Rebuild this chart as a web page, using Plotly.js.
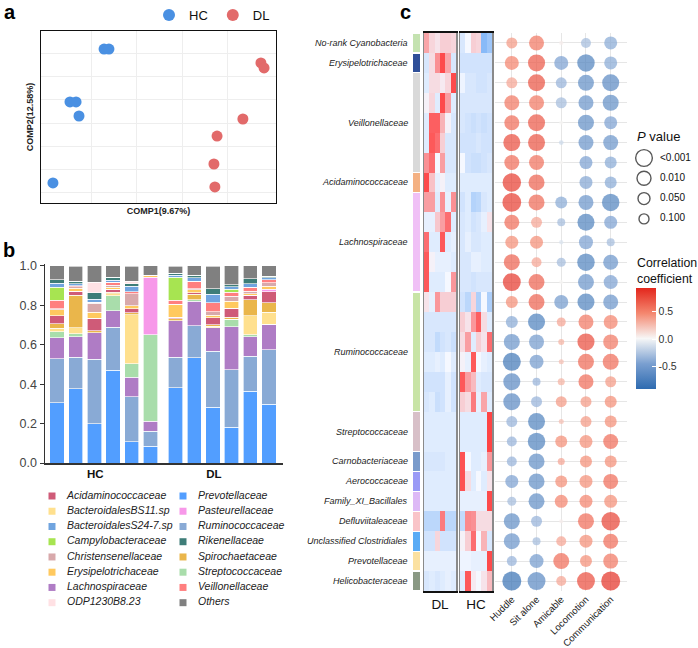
<!DOCTYPE html>
<html><head><meta charset="utf-8">
<script src="https://cdn.plot.ly/plotly-3.0.1.min.js"></script>
<style>html,body{margin:0;padding:0;background:#fff}</style>
</head><body><div id="chart" style="width:698px;height:648px"></div>
<script>
// ================= DATA =================
// Panel a : PLS-DA scores
const pcaGroups = ['HC', 'DL'];
const hcComp1 = [-0.278, -0.253, -0.452, -0.421, -0.406, -0.539];
const hcComp2 = [0.474, 0.474, 0.105, 0.105, 0.007, -0.460];
const dlComp1 = [0.523, 0.539, 0.431, 0.299, 0.283, 0.288];
const dlComp2 = [0.377, 0.342, -0.014, -0.133, -0.328, -0.488];

// Panel b : relative abundance (6 HC samples then 6 DL samples), in stacking order
const sampleGroups = ['HC', 'DL'];
const samplesPerGroup = 6;
const stackTaxa = ['Prevotellaceae','Ruminococcaceae','Lachnospiraceae','Streptococcaceae',
  'BacteroidalesBS11.sp','Spirochaetaceae','Acidaminococcaceae','Pasteurellaceae',
  'Erysipelotrichaceae','Christensenellaceae','Veillonellaceae','Campylobacteraceae',
  'BacteroidalesS24-7.sp','Rikenellaceae','ODP1230B8.23','Others'];
const prevotellaceae     = [0.306,0.376,0.200,0.472,0.108,0.086, 0.382,0.535,0.284,0.181,0.365,0.299];
const ruminococcaceae    = [0.222,0.162,0.327,0.218,0.228,0.076, 0.156,0.161,0.284,0.293,0.178,0.277];
const lachnospiraceae    = [0.108,0.103,0.135,0.083,0.098,0.049, 0.183,0.124,0.118,0.218,0.098,0.129];
const streptococcaceae   = [0.029,0.015,0.000,0.076,0.069,0.440, 0.000,0.008,0.000,0.037,0.010,0.000];
const bacteroidalesBS11  = [0.020,0.030,0.000,0.010,0.250,0.000, 0.000,0.000,0.008,0.000,0.096,0.059];
const spirochaetaceae    = [0.022,0.166,0.010,0.008,0.010,0.000, 0.010,0.029,0.008,0.010,0.081,0.049];
const acidaminococcaceae = [0.041,0.020,0.063,0.014,0.019,0.000, 0.010,0.008,0.034,0.046,0.024,0.056];
const pasteurellaceae    = [0.000,0.000,0.000,0.000,0.000,0.291, 0.000,0.000,0.000,0.000,0.000,0.012];
const erysipelotrichaceae= [0.029,0.014,0.030,0.012,0.015,0.012, 0.064,0.014,0.014,0.037,0.008,0.017];
const christensenellaceae= [0.007,0.008,0.046,0.010,0.063,0.000, 0.000,0.005,0.017,0.025,0.012,0.017];
const veillonellaceae    = [0.041,0.005,0.005,0.015,0.008,0.000, 0.022,0.039,0.046,0.020,0.020,0.014];
const campylobacteraceae = [0.068,0.000,0.000,0.000,0.000,0.000, 0.115,0.000,0.000,0.014,0.000,0.000];
const bacteroidalesS247  = [0.020,0.012,0.015,0.010,0.029,0.000, 0.012,0.017,0.044,0.014,0.017,0.012];
const rikenellaceae      = [0.017,0.012,0.034,0.014,0.014,0.000, 0.008,0.014,0.027,0.010,0.025,0.007];
const odp1230            = [0.000,0.000,0.052,0.000,0.012,0.000, 0.000,0.000,0.000,0.000,0.000,0.000];
const others             = [0.071,0.076,0.083,0.059,0.076,0.046, 0.037,0.047,0.115,0.095,0.066,0.052];
const stackValues = [prevotellaceae,ruminococcaceae,lachnospiraceae,streptococcaceae,bacteroidalesBS11,
  spirochaetaceae,acidaminococcaceae,pasteurellaceae,erysipelotrichaceae,christensenellaceae,
  veillonellaceae,campylobacteraceae,bacteroidalesS247,rikenellaceae,odp1230,others];
const legendOrder = ['Acidaminococcaceae','BacteroidalesBS11.sp','BacteroidalesS24-7.sp','Campylobacteraceae',
  'Christensenellaceae','Erysipelotrichaceae','Lachnospiraceae','ODP1230B8.23',
  'Prevotellaceae','Pasteurellaceae','Ruminococcaceae','Rikenellaceae',
  'Spirochaetaceae','Streptococcaceae','Veillonellaceae','Others'];
const bYTicks = [0, 0.2, 0.4, 0.6, 0.8, 1.0];

// Panel c : taxa groups (row annotation)
const cGroups = ['No-rank Cyanobacteria','Erysipelotrichaceae','Veillonellaceae','Acidaminococcaceae',
  'Lachnospiraceae','Ruminococcaceae','Streptococcaceae','Carnobacteriaceae','Aerococcaceae',
  'Family_XI_Bacillales','Defluviitaleaceae','Unclassified Clostridiales','Prevotellaceae','Helicobacteraceae'];
const cGroupSizes = [1,1,5,1,5,6,2,1,1,1,1,1,1,1];
const heatGroups = ['DL','HC'];
// row-scaled abundance, 28 OTUs x 6 samples
const heatDL = [
 [1.2,0.5,0.3,0.6,0.6,0.5],[-0.4,0.4,1.5,2.5,1.2,-0.4],[-0.3,0.4,0.4,0.2,0.5,2.5],[0.1,0.5,-0.3,2.5,1.3,-0.3],
 [-0.3,2.2,2.2,1.0,0.1,-0.4],[-0.3,2.3,2.0,0.6,-0.4,-0.4],[1.5,2.0,0.0,1.3,-0.4,-0.4],[2.5,0.8,-0.2,0.1,-0.3,-0.3],
 [1.3,1.3,-0.3,1.5,-0.2,1.5],[-0.2,-0.2,0.7,1.3,2.0,-0.3],[2.0,-0.3,-0.3,2.3,-0.3,-0.2],[2.3,0.1,-0.2,-0.2,-0.2,-0.3],
 [2.3,-0.3,-0.3,-0.3,0.0,1.4],[0.3,-0.2,1.4,0.6,0.6,0.6],[-0.4,-0.4,-0.4,-0.4,-0.4,-0.4],[-0.4,-0.4,-0.7,-0.5,-0.4,-0.6],
 [-0.3,-0.3,-0.2,-0.3,0.0,-0.3],[-0.5,-0.5,-0.5,-0.5,-0.2,-0.5],[-0.4,-0.3,-0.6,-0.5,-0.2,-0.5],[-0.3,-0.3,-0.3,-0.3,-0.3,-0.3],
 [-0.3,-0.3,-0.3,-0.3,-0.3,-0.3],[-0.4,-0.4,-0.4,-0.4,-0.3,-0.3],[-0.3,-0.3,-0.3,-0.3,-0.3,-0.3],[-0.3,-0.3,-0.3,-0.3,-0.3,-0.3],
 [-0.8,-0.8,-0.8,1.8,-0.8,-0.8],[-0.5,-0.5,0.5,-0.5,-0.5,-0.5],[-0.2,-0.2,-0.2,-0.2,-0.2,-0.2],[-0.4,-0.3,-0.4,-0.3,-0.2,-0.3]];
const heatHC = [
 [-0.4,0.0,0.6,0.5,-1.5,-1.2],[-0.5,-0.5,-0.5,-0.5,-0.5,-0.5],[-0.1,-0.4,-0.4,-0.5,-0.5,-0.4],[-0.4,-0.4,-0.4,-0.4,-0.4,-0.4],
 [-0.4,-0.5,-0.6,-0.5,-0.6,-0.5],[-0.5,-0.5,-0.5,-0.4,-0.5,-0.5],[0.0,-0.5,-0.6,-0.6,-0.5,-0.4],[-0.3,-0.3,-0.3,-0.3,-0.3,-0.3],
 [-0.5,-0.3,-0.9,-0.8,-0.4,-0.3],[-0.4,-0.3,-0.5,-0.4,-0.2,0.3],[-0.4,-0.2,-0.4,-0.4,-0.3,-0.3],[-0.4,-0.4,-0.2,-0.2,-0.3,-0.3],
 [-0.4,-0.4,-0.5,-0.4,-0.4,-0.4],[-0.5,-0.8,0.5,-1.0,0.0,-1.0],[0.6,0.3,1.4,2.2,0.4,-0.3],[0.4,1.3,-0.3,0.6,0.3,2.0],
 [0.1,-0.2,2.3,0.0,-0.2,-0.3],[2.3,1.3,0.9,-0.3,-0.4,-0.4],[0.6,0.4,1.8,-0.2,1.2,-0.3],[-0.3,-0.3,-0.3,-0.3,-0.3,2.6],
 [-0.3,-0.3,-0.3,-0.3,-0.3,2.6],[2.4,0.0,-0.3,-0.3,-0.2,1.4],[2.4,0.4,-0.3,0.0,-0.3,0.3],[-0.2,-0.2,-0.2,-0.2,-0.2,2.5],
 [-0.7,1.6,1.5,0.4,0.4,0.4],[0.1,0.6,2.0,0.0,1.0,-0.4],[-0.1,-0.1,-0.2,-0.2,-0.2,2.5],[-0.3,2.3,0.2,0.0,0.3,0.9]];
// correlation with behaviours
const behaviors = ['Huddle','Sit alone','Amicable','Locomotion','Communication'];
const corr = [
 [0.40,0.55,0.05,-0.30,-0.40],[0.50,0.70,-0.45,-0.70,-0.40],[0.35,0.72,-0.35,-0.60,-0.65],[0.55,0.55,-0.30,-0.55,-0.60],
 [0.60,0.70,0.02,-0.60,-0.45],[0.75,0.72,-0.15,-0.55,-0.55],[0.60,0.58,0.02,-0.45,-0.40],[0.82,0.65,0.02,-0.42,-0.40],
 [0.82,0.62,-0.40,-0.55,-0.70],[0.60,0.35,-0.30,-0.70,-0.45],[0.45,0.45,-0.10,-0.45,-0.30],[0.65,0.35,-0.30,-0.70,-0.55],
 [0.85,0.65,0.02,-0.55,-0.45],[0.45,0.65,-0.50,-0.70,-0.55],[-0.40,-0.72,0.35,0.55,0.50],[-0.55,-0.50,0.30,0.75,0.55],
 [-0.80,-0.50,0.25,0.62,0.60],[-0.65,-0.35,0.30,0.60,0.40],[-0.65,-0.35,0.40,0.40,0.45],[-0.35,-0.70,0.25,0.40,0.45],
 [-0.35,-0.70,0.45,0.45,0.60],[-0.35,-0.60,0.35,0.45,0.45],[-0.45,-0.60,0.45,0.45,0.60],[-0.30,-0.60,0.50,0.50,0.45],
 [-0.60,-0.35,0.05,0.60,0.80],[-0.55,-0.30,0.35,0.45,0.60],[-0.35,-0.50,0.60,0.45,0.55],[-0.85,-0.65,0.35,0.75,0.88]];
const pval = [
 [0.1,0.01,0.9,0.14,0.05],[0.022,0.0018,0.022,0.0012,0.05],[0.1,0.0018,0.1,0.0043,0.0018],[0.01,0.01,0.1,0.01,0.0043],
 [0.01,0.0018,0.95,0.0043,0.05],[0.0018,0.0018,0.8,0.01,0.01],[0.01,0.01,0.95,0.05,0.071],[0.0005,0.0043,0.95,0.05,0.071],
 [0.0004,0.0043,0.071,0.01,0.0012],[0.01,0.1,0.27,0.0018,0.05],[0.05,0.05,0.9,0.022,0.27],[0.0043,0.14,0.19,0.0012,0.01],
 [0.0008,0.0043,0.95,0.0043,0.022],[0.071,0.0043,0.022,0.0018,0.01],[0.071,0.0018,0.19,0.01,0.022],[0.0043,0.01,0.52,0.0018,0.01],
 [0.0008,0.022,0.72,0.0043,0.0043],[0.0018,0.27,0.37,0.01,0.1],[0.0018,0.1,0.1,0.1,0.071],[0.1,0.0018,0.72,0.1,0.071],
 [0.14,0.0012,0.071,0.05,0.01],[0.14,0.0043,0.37,0.071,0.071],[0.05,0.0043,0.071,0.05,0.01],[0.19,0.0043,0.05,0.05,0.05],
 [0.0043,0.1,0.95,0.0043,0.0005],[0.0043,0.27,0.14,0.05,0.01],[0.14,0.022,0.0043,0.071,0.01],[0.0003,0.0008,0.14,0.0008,0.0003]];
const pLevels = [0.001, 0.010, 0.050, 0.100];
const pLevelLabels = ['<0.001', '0.010', '0.050', '0.100'];
const corrTicks = [-0.5, 0, 0.5];

// ================= STYLES =================
const FONT = 'Liberation Sans, Arial, sans-serif';
const W = 698, H = 648;
const fx = v => v / W, fy = v => 1 - v / H;
const groupColors = {HC: '#4A90E2', DL: '#E26A6A'};
const taxaColors = {
  'Acidaminococcaceae':'#CF5B78','BacteroidalesBS11.sp':'#FFE08E','BacteroidalesS24-7.sp':'#70A4DF',
  'Campylobacteraceae':'#A7E451','Christensenellaceae':'#D8A9AB','Erysipelotrichaceae':'#FFC95F',
  'Lachnospiraceae':'#AF7CC5','ODP1230B8.23':'#FFE1E4','Prevotellaceae':'#529EFF','Pasteurellaceae':'#F798E9',
  'Ruminococcaceae':'#89AAD5','Rikenellaceae':'#3E7D78','Spirochaetaceae':'#EAB64B','Streptococcaceae':'#A9DDAB',
  'Veillonellaceae':'#FF7F7F','Others':'#808080'};
const cGroupColors = ['#C4E2B0','#2F4F98','#D9D9D9','#F4B183','#F0C0F6','#C8E4A6','#D8C0C8','#7A9BCB',
  '#9A9AF6','#DDB9F6','#F9C4C8','#5AABF5','#FBE1A1','#8A9984'];
const heatScale = [[0, 'rgb(100,165,245)'], [0.4, 'rgb(245,248,255)'], [1, 'rgb(255,40,40)']];
const corrScale = [[0, '#2E6BB0'], [0.25, '#7A9FD0'], [0.5, '#F7F7F7'], [0.75, '#F4876F'], [1, '#E3261C']];
const sizeKnotsX = [0, 1, 1.3, 2, 3, 3.5], sizeKnotsD = [4, 11, 13, 15, 17.7, 19];
function pToSize(p) {
  const x = Math.min(3.5, Math.max(0, -Math.log10(p)));
  for (let i = 1; i < sizeKnotsX.length; i++) {
    if (x <= sizeKnotsX[i]) {
      const t = (x - sizeKnotsX[i-1]) / (sizeKnotsX[i] - sizeKnotsX[i-1]);
      return sizeKnotsD[i-1] + t * (sizeKnotsD[i] - sizeKnotsD[i-1]);
    }
  }
  return sizeKnotsD[sizeKnotsD.length - 1];
}

const traces = [];
// ---- panel a ----
traces.push({type:'scatter', mode:'markers', name:pcaGroups[0], x:hcComp1, y:hcComp2, xaxis:'x', yaxis:'y',
  marker:{color:groupColors.HC, size:11}, showlegend:true, legend:'legend'});
traces.push({type:'scatter', mode:'markers', name:pcaGroups[1], x:dlComp1, y:dlComp2, xaxis:'x', yaxis:'y',
  marker:{color:groupColors.DL, size:11}, showlegend:true, legend:'legend'});

// ---- panel b ----
const groupGap = 0.34;
const nSamples = sampleGroups.length * samplesPerGroup;
const barX = Array.from({length:nSamples}, (_, i) => i + Math.floor(i / samplesPerGroup) * groupGap);
stackTaxa.forEach((t, k) => {
  traces.push({type:'bar', name:t, x:barX, y:stackValues[k], xaxis:'x2', yaxis:'y2', width:0.765,
    marker:{color:taxaColors[t], line:{color:'rgba(255,255,255,0.9)', width:0.7}}, showlegend:false});
});
const groupCenters = sampleGroups.map((g, gi) => {
  const xs = barX.slice(gi * samplesPerGroup, (gi + 1) * samplesPerGroup);
  return xs.reduce((a, b) => a + b, 0) / xs.length - 0.45;
});
// manual legend for panel b (two columns)
const legX = [], legY = [], legC = [], legTX = [];
legendOrder.forEach((t, i) => {
  const col = Math.floor(i / 8), row = i % 8;
  legX.push(52 + col * 131); legY.push(496 + row * 15.24); legC.push(taxaColors[t]); legTX.push(67 + col * 131);
});
traces.push({type:'scatter', mode:'markers', x:legX, y:legY, xaxis:'x7', yaxis:'y7', showlegend:false,
  marker:{symbol:'square', size:7, color:legC}, hoverinfo:'skip'});
traces.push({type:'scatter', mode:'text', x:legTX, y:legY, text:legendOrder, xaxis:'x7', yaxis:'y7', showlegend:false,
  textposition:'middle right', textfont:{family:FONT, size:10.5, color:'#222', style:'italic'}, hoverinfo:'skip'});

// ---- panel c: annotation bar ----
let start = 0; const groupMid = [];
cGroups.forEach((g, i) => {
  groupMid.push(start + cGroupSizes[i] / 2); start += cGroupSizes[i];
  traces.push({type:'bar', name:g, x:[0], y:[cGroupSizes[i]], xaxis:'x6', yaxis:'y6', width:1,
    marker:{color:cGroupColors[i], line:{color:'#ffffff', width:1.2}}, showlegend:false});
});
// heatmaps
traces.push({type:'heatmap', z:heatDL, xaxis:'x4', yaxis:'y4', colorscale:heatScale, zmin:-2, zmax:3, showscale:false});
traces.push({type:'heatmap', z:heatHC, xaxis:'x5', yaxis:'y5', colorscale:heatScale, zmin:-2, zmax:3, showscale:false});
// bubbles
const bx = [], by = [], bc = [], bs = [];
corr.forEach((row, r) => row.forEach((v, c) => { bx.push(behaviors[c]); by.push(r); bc.push(v); bs.push(pToSize(pval[r][c])); }));
traces.push({type:'scatter', mode:'markers', x:bx, y:by, xaxis:'x3', yaxis:'y3', showlegend:false,
  marker:{size:bs, color:bc, colorscale:corrScale, cmin:-0.9, cmax:0.92, line:{width:0}, showscale:true,
    colorbar:{x:fx(636), xanchor:'left', xpad:0, y:fy(338.5), yanchor:'middle', ypad:0, len:101, lenmode:'pixels',
      thickness:20, outlinewidth:0, tickvals:corrTicks, ticktext:corrTicks.map(v => v.toFixed(1)),
      ticks:'inside', tickcolor:'#ffffff', ticklen:4, tickfont:{family:FONT, size:10.5, color:'#333'}}}});
// p-value legend
const pY = pLevels.map((p, i) => 158 + i * 20.3);
traces.push({type:'scatter', mode:'markers', x:pLevels.map(() => 644), y:pY, xaxis:'x7', yaxis:'y7', showlegend:false,
  marker:{symbol:'circle-open', size:pLevels.map(p => pToSize(p) - 1), color:'#111', line:{width:1.4}}, hoverinfo:'skip'});
traces.push({type:'scatter', mode:'text', x:pLevels.map(() => 660), y:pY, text:pLevelLabels, xaxis:'x7', yaxis:'y7',
  showlegend:false, textposition:'middle right', textfont:{family:FONT, size:10, color:'#111'}, hoverinfo:'skip'});

const rowDomain = [fy(591), fy(33)];
const ann = (text, x, y, size, extra) => Object.assign({text, xref:'paper', yref:'paper', x:fx(x), y:fy(y),
  xanchor:'left', yanchor:'middle', showarrow:false, font:{family:FONT, size, color:'#111'}}, extra || {});
const layout = {
  width:W, height:H, margin:{l:0, r:0, t:0, b:0, autoexpand:false},
  paper_bgcolor:'#fff', plot_bgcolor:'rgba(0,0,0,0)', font:{family:FONT, color:'#222'},
  barmode:'stack', showlegend:true,
  legend:{orientation:'h', traceorder:'normal', x:fx(149), xanchor:'left', y:fy(15), yanchor:'middle', bgcolor:'rgba(0,0,0,0)',
    font:{family:FONT, size:13, color:'#111'}, itemsizing:'constant'},
  xaxis:{domain:[fx(41), fx(276)], range:[-0.6, 0.6], anchor:'y', showline:true, mirror:true, linecolor:'#111', linewidth:1.3,
    showticklabels:false, ticks:'', tickvals:[-0.34, -0.11, 0.12, 0.35], showgrid:true, gridcolor:'#EEEEEE', gridwidth:1, zeroline:false,
    title:{text:'<b>COMP1(9.67%)</b>', font:{family:FONT, size:9, color:'#222'}, standoff:4}},
  yaxis:{domain:[fy(203), fy(31)], range:[-0.6, 0.6], anchor:'x', showline:true, mirror:true, linecolor:'#111', linewidth:1.3,
    showticklabels:false, ticks:'', tick0:-0.53, dtick:0.1625, showgrid:true, gridcolor:'#EEEEEE', gridwidth:1, zeroline:false,
    title:{text:'<b>COMP2(12.58%)</b>', font:{family:FONT, size:9, color:'#222'}, standoff:4}},
  xaxis2:{domain:[fx(45), fx(283)], range:[-0.64, 12.09], anchor:'y2', showline:true, linecolor:'#333', linewidth:1.5,
    ticks:'', tickvals:groupCenters, ticktext:sampleGroups.map(g => '<b>' + g + '</b>'),
    tickfont:{family:FONT, size:11.5, color:'#111'}, showgrid:false, zeroline:false},
  yaxis2:{domain:[fy(463), fy(264)], range:[0, 1.01], anchor:'x2', showline:true, linecolor:'#333', linewidth:1.5,
    ticks:'outside', ticklen:4, tickcolor:'#333', tickvals:bYTicks, ticktext:bYTicks.map(v => v.toFixed(1)),
    tickfont:{family:FONT, size:12.5, color:'#444'}, showgrid:false, zeroline:false},
  xaxis3:{domain:[fx(495), fx(627)], range:[-0.68, 4.66], anchor:'y3', type:'category', categoryorder:'array', categoryarray:behaviors,
    showgrid:true, gridcolor:'#E6E6E6', gridwidth:1, ticks:'', tickangle:-45, ticklabelstandoff:0,
    tickfont:{family:FONT, size:9.6, color:'#222'}, zeroline:false, showline:false},
  yaxis3:{domain:rowDomain, range:[27.5, -0.5], anchor:'x3', showgrid:true, gridcolor:'#E6E6E6', gridwidth:1, dtick:1, tick0:0,
    showticklabels:false, ticks:'', zeroline:false, showline:false},
  xaxis4:{domain:[fx(424), fx(456)], range:[-0.5, 5.5], anchor:'y4', showline:true, mirror:true, linecolor:'#111', linewidth:2,
    ticks:'', tickvals:[2.5], ticktext:[heatGroups[0]], tickfont:{family:FONT, size:13.5, color:'#111'}, showgrid:false, zeroline:false},
  yaxis4:{domain:rowDomain, range:[27.5, -0.5], anchor:'x4', showline:true, mirror:true, linecolor:'#8A8A8A', linewidth:1.5,
    showticklabels:false, ticks:'', showgrid:false, zeroline:false},
  xaxis5:{domain:[fx(460), fx(492)], range:[-0.5, 5.5], anchor:'y5', showline:true, mirror:true, linecolor:'#111', linewidth:2,
    ticks:'', tickvals:[2.5], ticktext:[heatGroups[1]], tickfont:{family:FONT, size:13.5, color:'#111'}, showgrid:false, zeroline:false},
  yaxis5:{domain:rowDomain, range:[27.5, -0.5], anchor:'x5', showline:true, mirror:true, linecolor:'#8A8A8A', linewidth:1.5,
    showticklabels:false, ticks:'', showgrid:false, zeroline:false},
  xaxis6:{domain:[fx(412), fx(421)], range:[-0.5, 0.5], anchor:'y6', visible:false},
  yaxis6:{domain:rowDomain, range:[28, 0], anchor:'x6', visible:false},
  xaxis7:{domain:[0, 1], range:[0, W], anchor:'y7', visible:false},
  yaxis7:{domain:[0, 1], range:[H, 0], anchor:'x7', visible:false},
  annotations: [
    ann('<b>a</b>', 2, 12, 20, {font:{family:FONT, size:20, color:'#000'}}),
    ann('<b>b</b>', 1, 250, 20, {font:{family:FONT, size:20, color:'#000'}}),
    ann('<b>c</b>', 398, 12, 20, {font:{family:FONT, size:20, color:'#000'}}),
    ann('<i>P</i> value', 635, 136, 13),
    ann('Correlation<br>coefficient', 635, 271.5, 12.3, {align:'left'})
  ].concat(cGroups.map((g, i) => ({text:'<i>' + g + '</i>', xref:'paper', yref:'y6', x:fx(410), y:groupMid[i],
    xanchor:'right', yanchor:'middle', showarrow:false, font:{family:FONT, size:9, color:'#222'}})))
};
Plotly.newPlot('chart', traces, layout, {displayModeBar:false, staticPlot:true});
</script></body></html>
